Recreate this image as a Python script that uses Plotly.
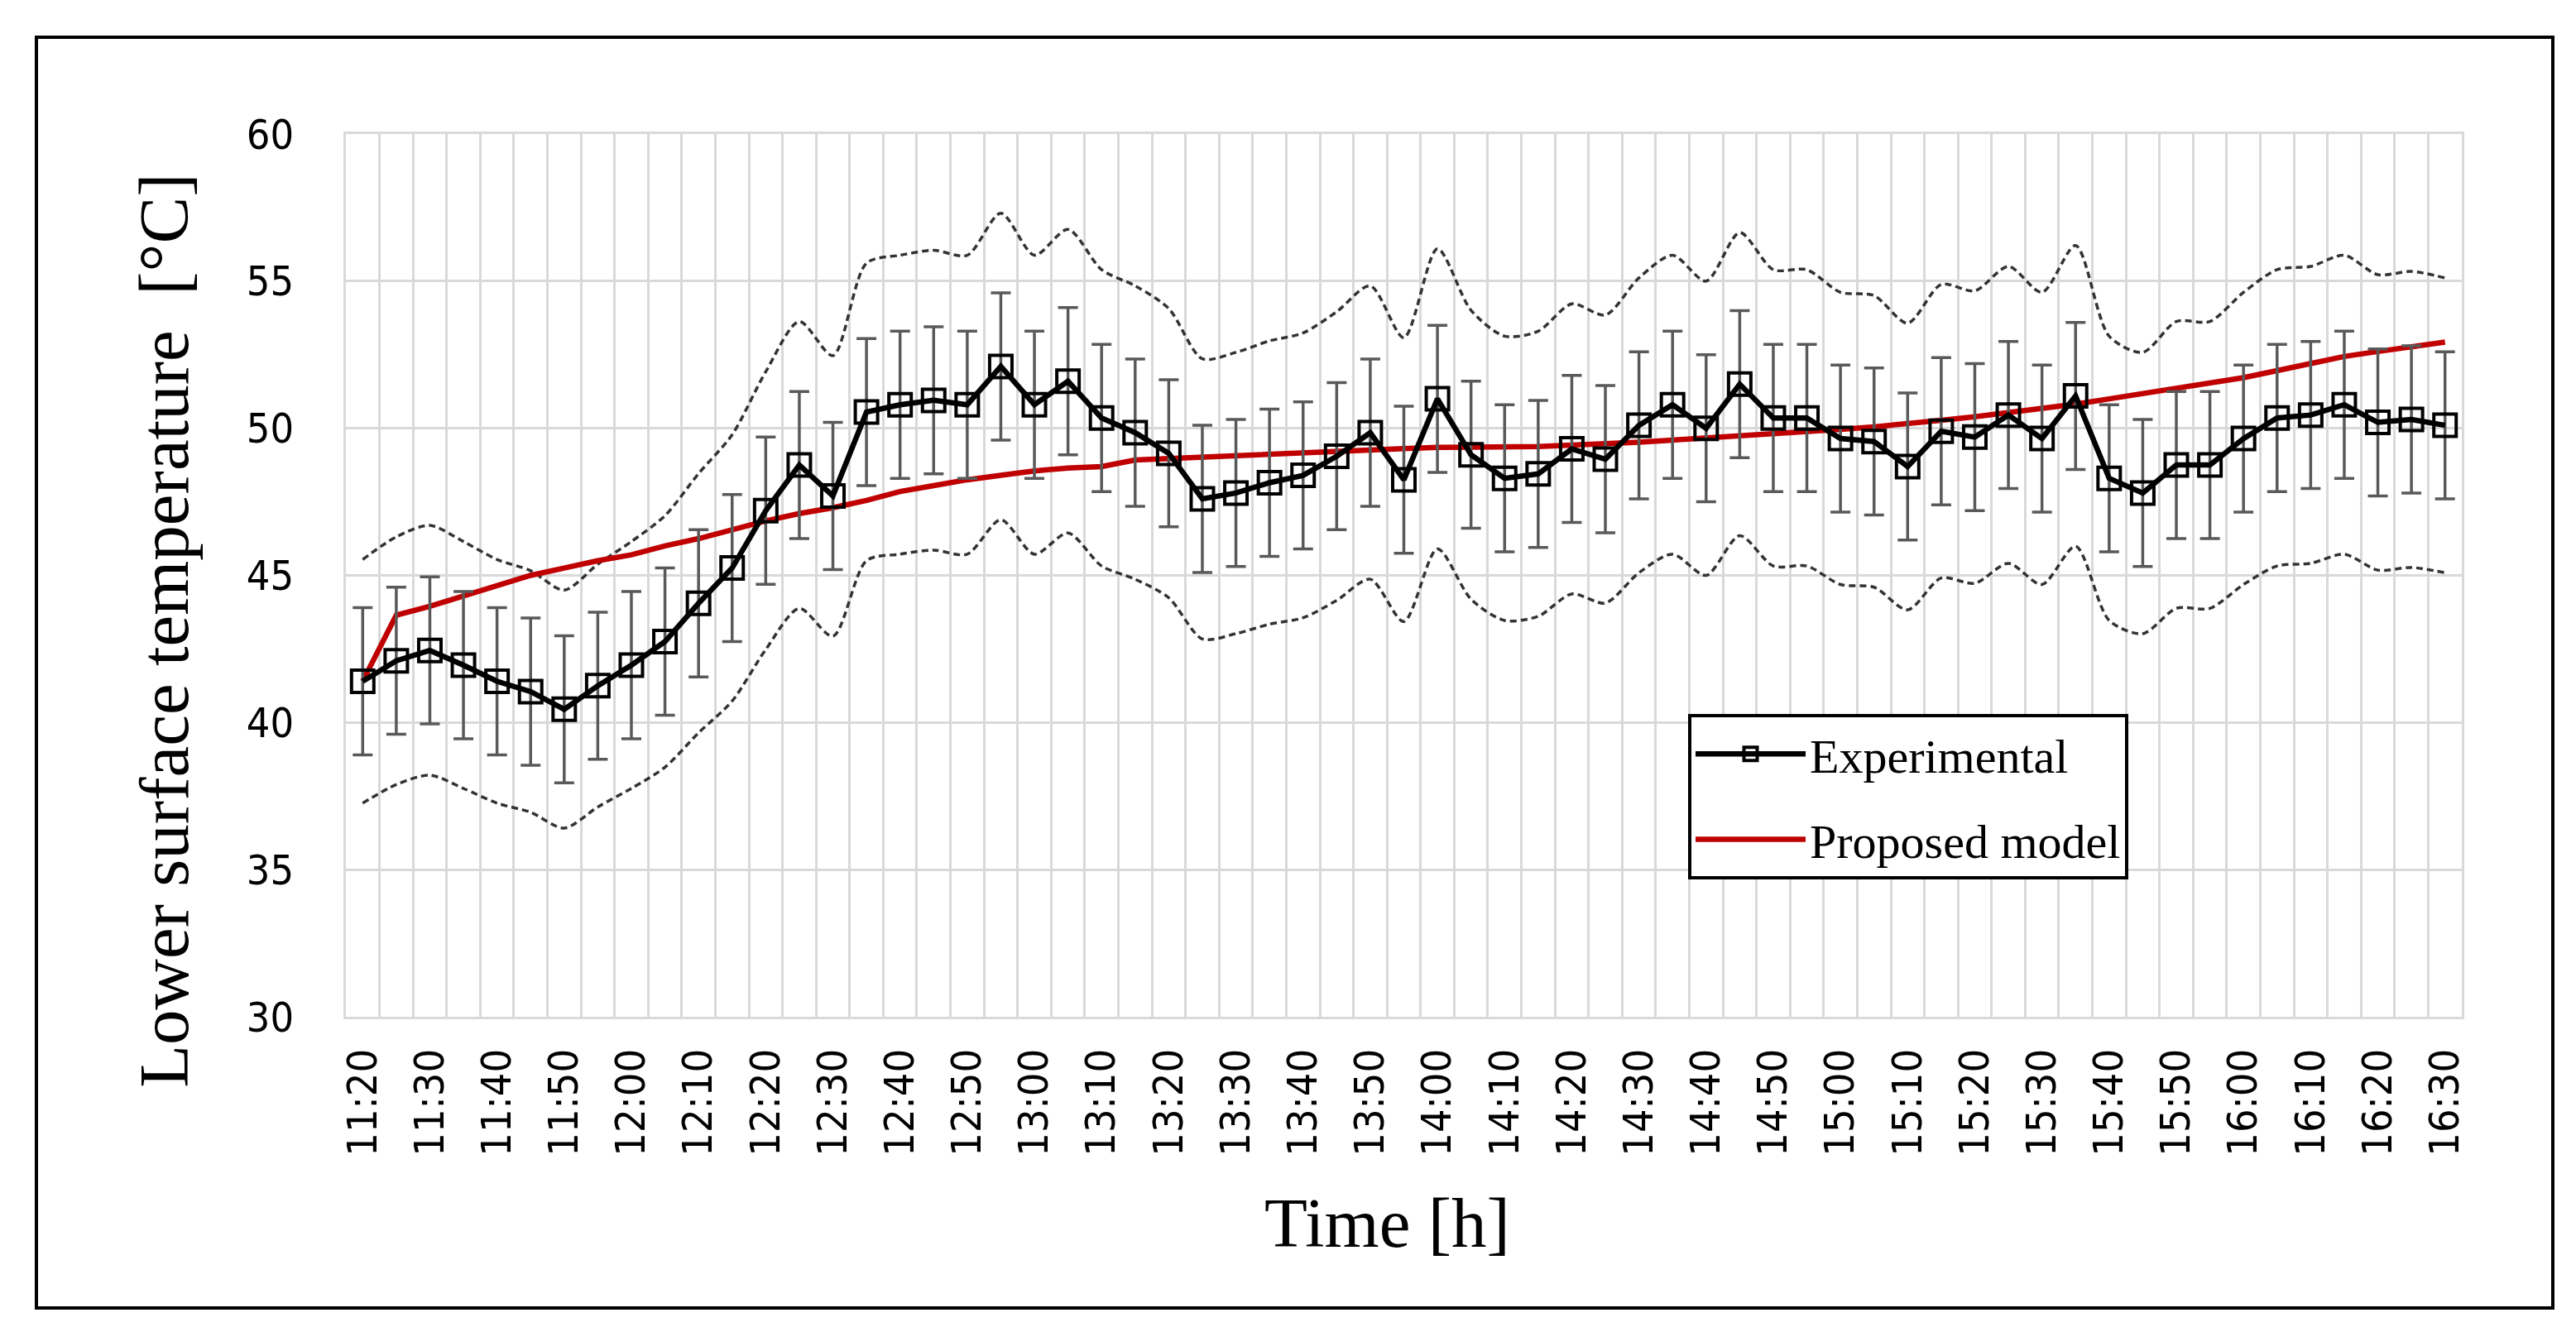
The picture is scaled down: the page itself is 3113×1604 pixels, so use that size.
import plotly.graph_objects as go

# Time axis (every 5 minutes, labels shown every 10 minutes)
times = [
    "11:20", "11:25", "11:30", "11:35", "11:40", "11:45", "11:50", "11:55",
    "12:00", "12:05", "12:10", "12:15", "12:20", "12:25", "12:30", "12:35", "12:40", "12:45", "12:50", "12:55",
    "13:00", "13:05", "13:10", "13:15", "13:20", "13:25", "13:30", "13:35", "13:40", "13:45", "13:50", "13:55",
    "14:00", "14:05", "14:10", "14:15", "14:20", "14:25", "14:30", "14:35", "14:40", "14:45", "14:50", "14:55",
    "15:00", "15:05", "15:10", "15:15", "15:20", "15:25", "15:30", "15:35", "15:40", "15:45", "15:50", "15:55",
    "16:00", "16:05", "16:10", "16:15", "16:20", "16:25", "16:30",
]

# Measured lower surface temperature [°C]
experimental = [
    41.40, 42.10, 42.45, 41.95, 41.40, 41.05, 40.45, 41.25,
    41.95, 42.75, 44.05, 45.25, 47.20, 48.75, 47.70, 50.55, 50.80, 50.95, 50.80, 52.10,
    50.80, 51.60, 50.35, 49.85, 49.15, 47.60, 47.80, 48.15, 48.40, 49.05, 49.85, 48.25,
    51.00, 49.10, 48.30, 48.45, 49.30, 48.95, 50.10, 50.80, 50.00, 51.50, 50.35, 50.35,
    49.65, 49.55, 48.70, 49.90, 49.70, 50.45, 49.65, 51.10, 48.30, 47.80, 48.75, 48.75,
    49.65, 50.35, 50.45, 50.80, 50.20, 50.30, 50.10,
]

# Error bar half-width [°C]
error = 2.5

# Dashed envelope, upper and lower
upper = [
    45.54, 46.31, 46.70, 46.15, 45.54, 45.16, 44.50, 45.38,
    46.15, 47.03, 48.46, 49.78, 51.92, 53.63, 52.47, 55.61, 55.88, 56.05, 55.88, 57.31,
    55.88, 56.76, 55.39, 54.84, 54.07, 52.36, 52.58, 52.97, 53.24, 53.96, 54.84, 53.08,
    56.10, 54.01, 53.13, 53.30, 54.23, 53.85, 55.11, 55.88, 55.00, 56.65, 55.39, 55.39,
    54.62, 54.51, 53.57, 54.89, 54.67, 55.50, 54.62, 56.21, 53.13, 52.58, 53.63, 53.63,
    54.62, 55.39, 55.50, 55.88, 55.22, 55.33, 55.11,
]
lower = [
    37.26, 37.89, 38.21, 37.76, 37.26, 36.95, 36.41, 37.13,
    37.76, 38.48, 39.65, 40.73, 42.48, 43.88, 42.93, 45.50, 45.72, 45.86, 45.72, 46.89,
    45.72, 46.44, 45.32, 44.87, 44.24, 42.84, 43.02, 43.34, 43.56, 44.15, 44.87, 43.43,
    45.90, 44.19, 43.47, 43.61, 44.37, 44.06, 45.09, 45.72, 45.00, 46.35, 45.32, 45.32,
    44.69, 44.60, 43.83, 44.91, 44.73, 45.41, 44.69, 45.99, 43.47, 43.02, 43.88, 43.88,
    44.69, 45.32, 45.41, 45.72, 45.18, 45.27, 45.09,
]

# Proposed model
model = [
    41.40, 43.65, 43.95, 44.30, 44.65, 45.00, 45.25, 45.50,
    45.70, 46.00, 46.25, 46.55, 46.85, 47.10, 47.30, 47.55, 47.85, 48.05, 48.25, 48.40,
    48.55, 48.65, 48.70, 48.92, 48.97, 49.04, 49.10, 49.14, 49.18, 49.25, 49.28, 49.31,
    49.35, 49.35, 49.35, 49.38, 49.43, 49.47, 49.53, 49.60, 49.67, 49.72, 49.78, 49.87,
    49.96, 50.05, 50.14, 50.27, 50.39, 50.53, 50.67, 50.82, 51.00, 51.17, 51.36, 51.53,
    51.72, 51.96, 52.22, 52.44, 52.61, 52.77, 52.93,
]

tick_text = [t if i % 2 == 0 else "" for i, t in enumerate(times)]

serif = "Liberation Serif, Times New Roman, serif"
narrow = "Liberation Sans Narrow, Arial Narrow, DejaVu Sans Condensed, sans-serif"
grid = "#D9D9D9"

fig = go.Figure()

# Envelope lines
for band in (upper, lower):
    fig.add_trace(go.Scatter(
        x=times, y=band, mode="lines", showlegend=False, hoverinfo="skip",
        line=dict(color="#333333", width=3.5, dash="8px,5px", shape="spline", smoothing=0.8),
    ))

fig.add_trace(go.Scatter(
    x=times, y=model, mode="lines", name="Proposed model",
    legendgroup="b", legendrank=2,
    line=dict(color="#C00000", width=6.5),
))

fig.add_trace(go.Scatter(
    x=times, y=experimental, mode="lines+markers", name="Experimental",
    legendgroup="a", legendrank=1,
    line=dict(color="black", width=6.5),
    marker=dict(symbol="square-open", size=27, color="black", line=dict(width=4, color="black")),
    error_y=dict(type="constant", value=error, color="#595959", thickness=3.5, width=12),
))

# Outer frame around the whole chart (pixel positions converted to paper units)
L, R, T, B = 410, 146, 154, 383
W, H = 3113, 1604
pw, ph = W - L - R, H - T - B
fx0, fx1, fy0, fy1 = 36, 3077, 37, 1573
fig.add_shape(
    type="rect", xref="paper", yref="paper",
    x0=(fx0 - L) / pw, x1=(fx1 - L) / pw,
    y0=(H - B - fy1) / ph, y1=(H - B - fy0) / ph,
    line=dict(color="black", width=4),
)

fig.add_annotation(
    text="Time [h]", xref="paper", yref="paper", x=0.492, y=-0.279,
    xanchor="center", yanchor="bottom", showarrow=False,
    font=dict(family=serif, size=85, color="black"),
)
fig.add_annotation(
    text="Lower surface temperature  [°C]", xref="paper", yref="paper",
    x=-0.086, y=0.437, textangle=-90, xanchor="center", yanchor="middle", showarrow=False,
    font=dict(family=serif, size=85, color="black"),
)

fig.update_xaxes(
    type="category", range=[-0.5, len(times) - 0.5],
    tickmode="array", tickvals=times, ticktext=tick_text, tickson="boundaries",
    tickangle=-90, ticks="", ticklabelstandoff=16,
    tickfont=dict(family=narrow, size=50, color="black"),
    showgrid=True, gridcolor=grid, gridwidth=3,
    showline=True, linecolor=grid, linewidth=3, mirror=True,
    zeroline=False,
)
fig.update_yaxes(
    range=[30, 60], dtick=5, ticks="", ticklabelstandoff=50,
    tickfont=dict(family=narrow, size=50, color="black"),
    showgrid=True, gridcolor=grid, gridwidth=3,
    showline=True, linecolor=grid, linewidth=3, mirror=True,
    zeroline=False,
)

fig.update_layout(
    width=W, height=H,
    margin=dict(l=L, r=R, t=T, b=B),
    paper_bgcolor="white", plot_bgcolor="white",
    showlegend=True,
    legend=dict(
        x=(2032 - L) / pw, y=(H - B - 855) / ph, xanchor="left", yanchor="top",
        bgcolor="white", bordercolor="black", borderwidth=4,
        font=dict(family=serif, size=58, color="black"),
        itemwidth=133, tracegroupgap=25,
    ),
)

fig.write_html("out.html")
